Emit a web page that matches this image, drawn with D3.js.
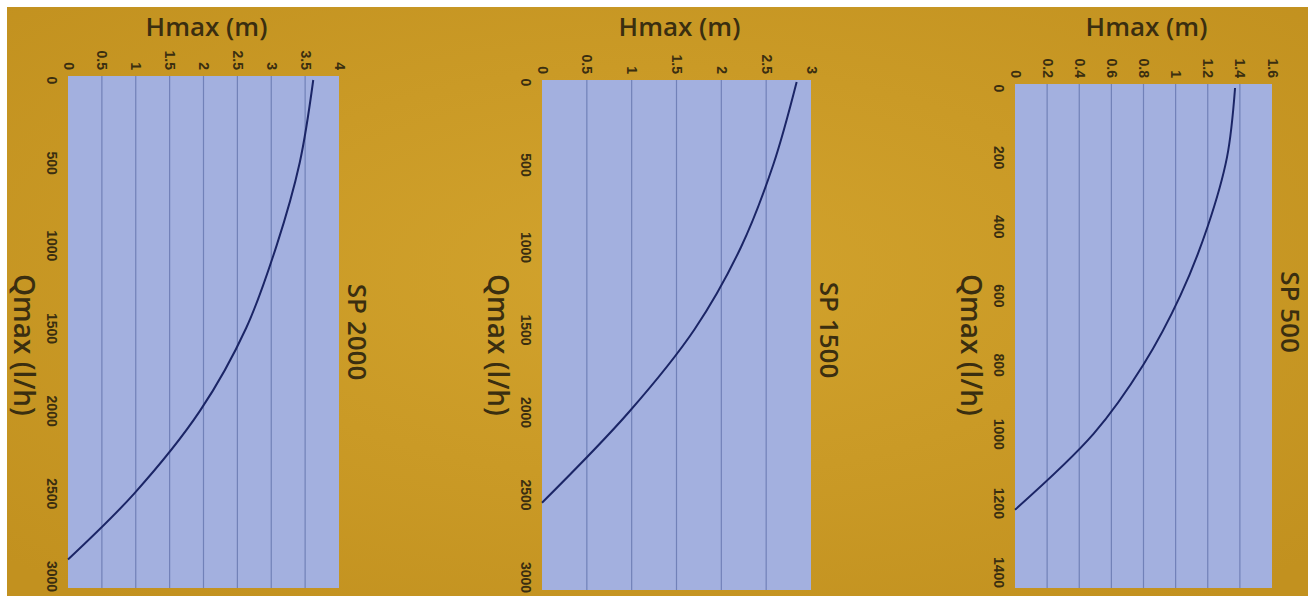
<!DOCTYPE html>
<html lang="en">
<head>
<meta charset="UTF-8">
<title>SP pump curves</title>
<script src="https://d3js.org/d3.v7.min.js"></script>
<style>
    body { margin: 0; background: #ffffff; }
    svg { display: block; font-family: "Open Sans", "DejaVu Sans", sans-serif; }
    .tick text { fill: #3a2e10; font-size: 14px; font-weight: 600; }
    .label { fill: #3a2e10; font-weight: 600; }
</style>
</head>
<body>
<div id="chart"></div>
<script>
    // data
    const pumpNames = ["SP 2000", "SP 1500", "SP 500"];

    const hTicks2000 = [0, 0.5, 1, 1.5, 2, 2.5, 3, 3.5, 4];
    const qTicks2000 = [0, 500, 1000, 1500, 2000, 2500, 3000];
    const q2000 = [0, 500, 1000, 1500, 2000, 2500, 2900];
    const h2000 = [3.62, 3.42, 3.08, 2.63, 1.95, 0.98, 0];

    const hTicks1500 = [0, 0.5, 1, 1.5, 2, 2.5, 3];
    const qTicks1500 = [0, 500, 1000, 1500, 2000, 2500, 3000];
    const q1500 = [0, 500, 1000, 1500, 2000, 2550];
    const h1500 = [2.84, 2.58, 2.22, 1.7, 0.97, 0];

    const hTicks500 = [0, 0.2, 0.4, 0.6, 0.8, 1, 1.2, 1.4, 1.6];
    const qTicks500 = [0, 200, 400, 600, 800, 1000, 1200, 1400];
    const q500 = [0, 200, 400, 600, 800, 1000, 1220];
    const h500 = [1.37, 1.32, 1.2, 1.03, 0.8, 0.49, 0];

    const panels = [
        {name: pumpNames[0], hTicks: hTicks2000, qTicks: qTicks2000, q: q2000, h: h2000},
        {name: pumpNames[1], hTicks: hTicks1500, qTicks: qTicks1500, q: q1500, h: h1500},
        {name: pumpNames[2], hTicks: hTicks500, qTicks: qTicks500, q: q500, h: h500}
    ];

    // plot boxes (pixels) for each panel
    const boxes = [
        {x0: 68, x1: 339, y0: 76, y1: 588, q0: 80, q1: 576, sp: 332},
        {x0: 542, x1: 811, y0: 80, y1: 590, q0: 82, q1: 577, sp: 330},
        {x0: 1015, x1: 1272, y0: 84, y1: 588, q0: 88, q1: 572, sp: 312}
    ];

    const W = 1314, H = 596;
    const svg = d3.select("#chart").append("svg")
        .attr("width", W)
        .attr("height", H);

    // paper background
    const defs = svg.append("defs");
    const grad = defs.append("radialGradient").attr("id", "paper")
        .attr("cx", "50%").attr("cy", "45%").attr("r", "70%");
    grad.append("stop").attr("offset", "0%").attr("stop-color", "#d2a32d");
    grad.append("stop").attr("offset", "100%").attr("stop-color", "#c2911f");

    svg.append("rect")
        .attr("x", 7).attr("y", 7)
        .attr("width", 1301).attr("height", H - 7)
        .attr("fill", "url(#paper)");

    panels.forEach((p, i) => {
        const b = boxes[i];
        const hMax = p.hTicks[p.hTicks.length - 1];
        const qMax = p.qTicks[p.qTicks.length - 1];

        const x = d3.scaleLinear().domain([0, hMax]).range([b.x0, b.x1]);
        const y = d3.scaleLinear().domain([0, qMax]).range([b.q0, b.q1]);

        const g = svg.append("g");

        g.append("rect")
            .attr("x", b.x0).attr("y", b.y0)
            .attr("width", b.x1 - b.x0).attr("height", b.y1 - b.y0)
            .attr("fill", "#a3b0df");

        // vertical grid lines
        g.selectAll(".grid")
            .data(p.hTicks.slice(1, -1))
            .enter().append("line")
            .attr("class", "grid")
            .attr("x1", d => x(d)).attr("x2", d => x(d))
            .attr("y1", b.y0).attr("y2", b.y1)
            .attr("stroke", "#7181b8")
            .attr("stroke-width", 1.2);

        // Hmax axis (top), labels turned a quarter
        const hAxis = g.append("g")
            .attr("transform", `translate(0,${b.y0})`)
            .call(d3.axisTop(x).tickValues(p.hTicks).tickSize(0).tickFormat(d3.format("")));
        hAxis.select(".domain").remove();
        hAxis.selectAll("text")
            .attr("transform", "rotate(90)")
            .attr("x", -6).attr("y", 0).attr("dy", null)
            .attr("text-anchor", "end")
            .attr("dominant-baseline", "central");

        // Qmax axis (left)
        const qAxis = g.append("g")
            .attr("transform", `translate(${b.x0},0)`)
            .call(d3.axisLeft(y).tickValues(p.qTicks).tickSize(0).tickFormat(d3.format("")));
        qAxis.select(".domain").remove();
        qAxis.selectAll("text")
            .attr("transform", "rotate(90)")
            .attr("x", 0).attr("y", 16).attr("dy", null)
            .attr("text-anchor", "middle")
            .attr("dominant-baseline", "central");

        // pump curve
        const pts = p.q.map((q, k) => [p.h[k], q]);
        g.append("path")
            .datum(pts)
            .attr("fill", "none")
            .attr("stroke", "#1b2566")
            .attr("stroke-width", 2)
            .attr("d", d3.line().x(d => x(d[0])).y(d => y(d[1])).curve(d3.curveCatmullRom));

        // titles
        const cx = (b.x0 + b.x1) / 2;
        g.append("text")
            .attr("class", "label")
            .attr("x", cx + 3).attr("y", 36)
            .attr("text-anchor", "middle")
            .attr("font-size", 26)
            .text("Hmax (m)");

        g.append("text")
            .attr("class", "label")
            .attr("transform", `translate(${b.x0 - 43},345) rotate(90)`)
            .attr("text-anchor", "middle")
            .attr("dominant-baseline", "central")
            .attr("font-size", 28)
            .text("Qmax (l/h)");

        g.append("text")
            .attr("class", "label")
            .attr("transform", `translate(${b.x1 + 19},${b.sp}) rotate(90)`)
            .attr("text-anchor", "middle")
            .attr("dominant-baseline", "central")
            .attr("font-size", 26)
            .text(p.name);
    });
</script>
</body>
</html>
